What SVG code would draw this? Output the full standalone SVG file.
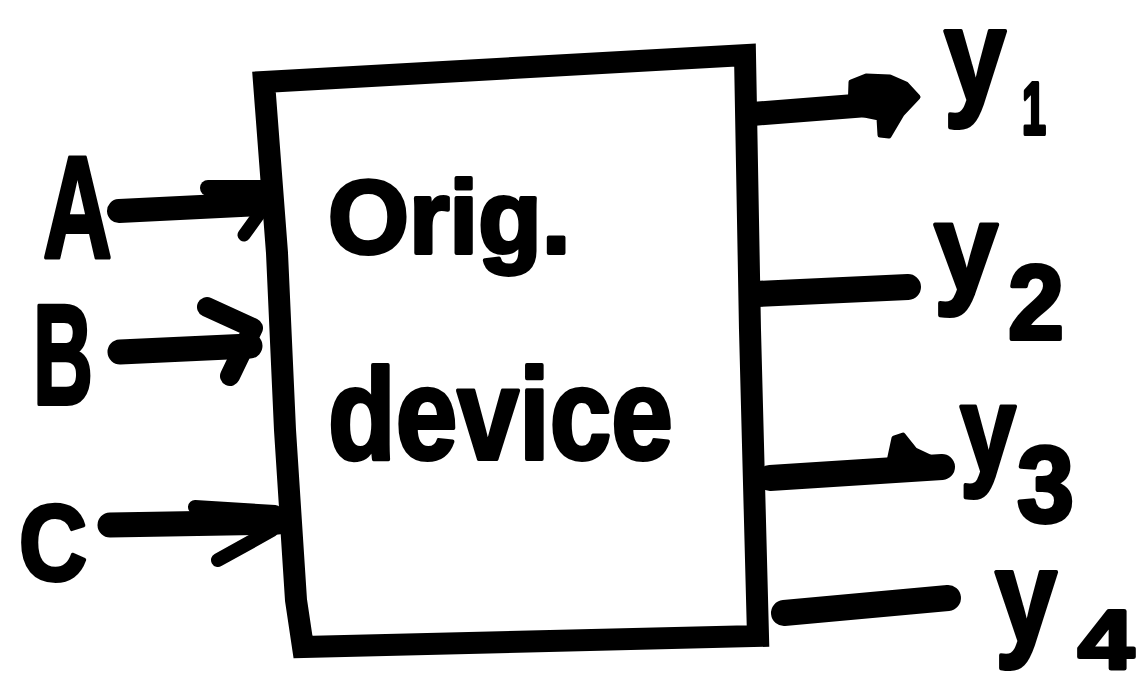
<svg xmlns="http://www.w3.org/2000/svg" width="1140" height="690" viewBox="0 0 1140 690">
  <style>
    .ink { fill: none; stroke: #000; stroke-linecap: round; stroke-linejoin: round; }
    .box { fill: none; stroke: #000; stroke-width: 22; stroke-linejoin: miter; }
    .lbl { font-family: "Liberation Sans", Arial, sans-serif; font-weight: bold; fill: #000; stroke: #000; stroke-width: 4; stroke-linejoin: round; }
    .head { fill: #000; stroke: #000; stroke-width: 5; stroke-linejoin: round; }
  </style>
  <rect width="1140" height="690" fill="#fff"/>

  <g id="device">
    <path class="box" d="M 264 82 L 745 55 L 750 330 L 758 636 L 303 647 L 296 600 L 285 430 L 277 253 L 264 82 Z"/>
    <text class="lbl" x="328" y="253" font-size="104">Orig.</text>
    <text class="lbl" x="328" y="459" font-size="130" textLength="345" lengthAdjust="spacingAndGlyphs">device</text>
  </g>

  <g id="input-A">
    <text class="lbl" x="43" y="257" font-size="144" textLength="69" lengthAdjust="spacingAndGlyphs">A</text>
  </g>
  <g id="input-B">
    <text class="lbl" x="33" y="404" font-size="142" textLength="60" lengthAdjust="spacingAndGlyphs">B</text>
  </g>
  <g id="input-C">
    <text class="lbl" x="19" y="580" font-size="108" textLength="68" lengthAdjust="spacingAndGlyphs">C</text>
  </g>

  <g id="output-y1">
    <text class="lbl" font-size="132"><tspan x="944" y="101" textLength="62" lengthAdjust="spacingAndGlyphs">y</tspan><tspan x="1022" y="134" font-size="74" textLength="24" lengthAdjust="spacingAndGlyphs">1</tspan></text>
  </g>
  <g id="output-y2">
    <text class="lbl" font-size="124"><tspan x="934" y="290" textLength="64" lengthAdjust="spacingAndGlyphs">y</tspan><tspan x="1008" y="339" font-size="106" textLength="56" lengthAdjust="spacingAndGlyphs">2</tspan></text>
  </g>
  <g id="output-y3">
    <text class="lbl" font-size="124"><tspan x="960" y="472" textLength="56" lengthAdjust="spacingAndGlyphs">y</tspan><tspan x="1017" y="522" font-size="108" textLength="57" lengthAdjust="spacingAndGlyphs">3</tspan></text>
  </g>
  <g id="output-y4">
    <text class="lbl" font-size="132"><tspan x="995" y="642" textLength="62" lengthAdjust="spacingAndGlyphs">y</tspan><tspan x="1078" y="669" font-size="84" textLength="56" lengthAdjust="spacingAndGlyphs">4</tspan></text>
  </g>

  <g id="connectors">
    <path class="ink" stroke-width="24" d="M 119 211 L 262 204"/>
    <path class="ink" stroke-width="16" d="M 208 188 L 262 188"/>
    <path class="ink" stroke-width="13" d="M 262 210 L 244 235"/>
    <path class="ink" stroke-width="25" d="M 120 352 L 250 346"/>
    <path class="ink" stroke-width="20" d="M 207 307 L 253 328 L 230 376"/>
    <path class="ink" stroke-width="25" d="M 110 525 L 278 522"/>
    <path class="ink" stroke-width="14" d="M 195 507 L 275 512"/>
    <path class="ink" stroke-width="14" d="M 272 530 L 218 560"/>
    <path class="ink" stroke-width="24" d="M 752 114 L 880 104"/>
    <path class="head" d="M 850 112 L 851 82 L 866 76 L 890 77 L 906 84 L 918 97 L 902 114 L 889 136 L 880 135 L 879 118 Z"/>
    <path class="ink" stroke-width="26" d="M 756 294 L 908 287"/>
    <path class="ink" stroke-width="26" d="M 770 478 L 942 467"/>
    <path class="head" d="M 888 466 L 894 438 L 903 435 L 915 450 L 932 458 Z"/>
    <path class="ink" stroke-width="26" d="M 784 613 L 948 598"/>
  </g>
</svg>
